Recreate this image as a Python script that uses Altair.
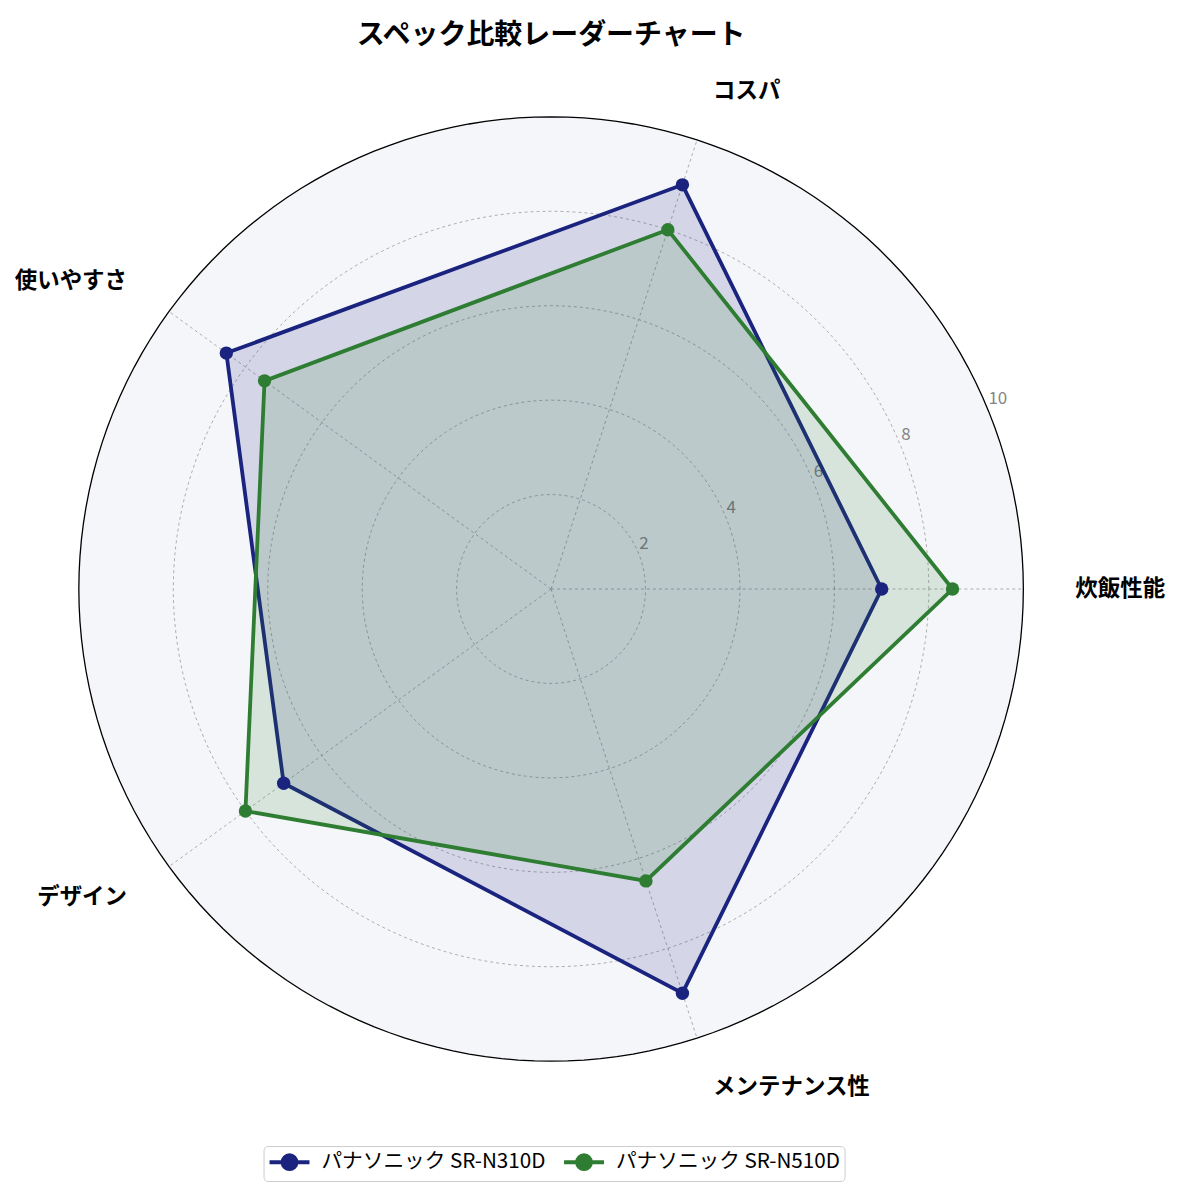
import altair as alt
import pandas as pd

# ---- data ----
categories = ["炊飯性能", "コスパ", "使いやすさ", "デザイン", "メンテナンス性"]
series_names = ["パナソニック SR-N310D", "パナソニック SR-N510D"]
values_n310d = [7.0, 9.0, 8.5, 7.0, 9.0]
values_n510d = [8.5, 8.0, 7.5, 8.0, 6.5]
grid_levels = [2, 4, 6, 8]
tick_values = [2, 4, 6, 8, 10]
tick_labels = ["2", "4", "6", "8", "10"]
r_max = 10
colors = ["#1a237e", "#2e7d32"]

FONT = "Noto Sans CJK JP"
N = len(categories)

rows = []
for name, vals in zip(series_names, [values_n310d, values_n510d]):
    for i, (c, v) in enumerate(zip(categories, vals)):
        rows.append({"series": name, "category": c, "idx": i, "value": v})
df = pd.DataFrame(rows)

cat_df = pd.DataFrame({"category": categories, "idx": list(range(N))})
tick_df = pd.DataFrame({"v": tick_values, "label": tick_labels})

X = alt.Scale(domain=[-11.5, 13.0], nice=False, zero=False)
Y = alt.Scale(domain=[-11.226, 11.395], nice=False, zero=False)
THETA = f"datum.idx * 2 * PI / {N}"

color_scale = alt.Scale(domain=series_names, range=colors)

# background disk + outer spine
disk = alt.Chart(alt.sequence(0, 362, 2, as_="deg")).transform_calculate(
    x=f"{r_max} * cos(datum.deg * PI / 180)",
    y=f"{r_max} * sin(datum.deg * PI / 180)",
).mark_line(
    interpolate="linear-closed", fill="#f5f6fa", stroke="black", strokeWidth=1.3
).encode(
    x=alt.X("x:Q", scale=X, axis=None),
    y=alt.Y("y:Q", scale=Y, axis=None),
    order="deg:Q",
)

rings = alt.Chart(alt.sequence(0, 362, 2, as_="deg")).transform_calculate(
    level=str(grid_levels)
).transform_flatten(["level"]).transform_calculate(
    x="datum.level * cos(datum.deg * PI / 180)",
    y="datum.level * sin(datum.deg * PI / 180)",
).mark_line(
    interpolate="linear-closed", stroke="#9a9a9a", strokeWidth=0.8, strokeDash=[3, 3]
).encode(
    x=alt.X("x:Q", scale=X, axis=None),
    y=alt.Y("y:Q", scale=Y, axis=None),
    detail="level:Q",
    order="deg:Q",
)

spokes = alt.Chart(cat_df).transform_calculate(
    theta=THETA,
    x0="0",
    y0="0",
    xe=f"{r_max} * cos(datum.theta)",
    ye=f"{r_max} * sin(datum.theta)",
).mark_rule(stroke="#9a9a9a", strokeWidth=0.8, strokeDash=[3, 3]).encode(
    x=alt.X("x0:Q", scale=X, axis=None),
    y=alt.Y("y0:Q", scale=Y, axis=None),
    x2="xe:Q",
    y2="ye:Q",
)

ticks = alt.Chart(tick_df).transform_calculate(
    x="datum.v * cos(22.5 * PI / 180)",
    y="datum.v * sin(22.5 * PI / 180)",
).mark_text(
    align="left", baseline="bottom", fontSize=17, color="#858585", font=FONT, dx=1
).encode(
    x=alt.X("x:Q", scale=X, axis=None),
    y=alt.Y("y:Q", scale=Y, axis=None),
    text="label:N",
)

legend_symbol = (
    "M-1,0L3,0"
    "M0.3,0A0.7,0.7,0,1,0,1.7,0A0.7,0.7,0,1,0,0.3,0"
    "M0.5,0A0.5,0.5,0,1,0,1.5,0A0.5,0.5,0,1,0,0.5,0"
    "M0.7,0A0.3,0.3,0,1,0,1.3,0A0.3,0.3,0,1,0,0.7,0"
    "M0.9,0A0.1,0.1,0,1,0,1.1,0A0.1,0.1,0,1,0,0.9,0"
)

polys = alt.Chart(df).transform_calculate(
    theta=THETA,
    x="datum.value * cos(datum.theta)",
    y="datum.value * sin(datum.theta)",
).mark_line(
    interpolate="linear-closed", strokeWidth=3.8, fillOpacity=0.15
).encode(
    x=alt.X("x:Q", scale=X, axis=None),
    y=alt.Y("y:Q", scale=Y, axis=None),
    color=alt.Color(
        "series:N",
        scale=color_scale,
        sort=series_names,
        legend=alt.Legend(
            title=None,
            orient="none",
            legendX=256,
            legendY=1097,
            direction="horizontal",
            symbolType=legend_symbol,
            symbolSize=400,
            symbolStrokeWidth=3.8,
            symbolOpacity=1,
            labelFontSize=20.7,
            labelFont=FONT,
            labelLimit=400,
            labelColor="black",
            labelOffset=30,
            fillColor="white",
            strokeColor="#cccccc",
            cornerRadius=4,
            padding=4,
            columnPadding=10,
        ),
    ),
    fill=alt.Fill("series:N", scale=color_scale, legend=None),
    order="idx:Q",
)

points = alt.Chart(df).transform_calculate(
    theta=THETA,
    x="datum.value * cos(datum.theta)",
    y="datum.value * sin(datum.theta)",
).mark_point(filled=True, size=180, opacity=1).encode(
    x=alt.X("x:Q", scale=X, axis=None),
    y=alt.Y("y:Q", scale=Y, axis=None),
    color=alt.Color("series:N", scale=color_scale, sort=series_names),
)

label_base = alt.Chart(cat_df).transform_calculate(
    theta=THETA,
    x="11.1 * cos(datum.theta)",
    y="11.1 * sin(datum.theta)",
    c="cos(datum.theta)",
)

labels_left = label_base.transform_filter("datum.c > 0").mark_text(
    align="left", baseline="middle", fontSize=22.5, fontWeight="bold", font=FONT, color="black"
).encode(
    x=alt.X("x:Q", scale=X, axis=None),
    y=alt.Y("y:Q", scale=Y, axis=None),
    text="category:N",
)
labels_right = label_base.transform_filter("datum.c <= 0").mark_text(
    align="right", baseline="middle", fontSize=22.5, fontWeight="bold", font=FONT, color="black"
).encode(
    x=alt.X("x:Q", scale=X, axis=None),
    y=alt.Y("y:Q", scale=Y, axis=None),
    text="category:N",
)

chart = alt.layer(
    disk, rings, spokes, ticks, polys, points, labels_left, labels_right
).properties(
    width=1159,
    height=1070,
    title=alt.TitleParams(
        "スペック比較レーダーチャート",
        fontSize=28,
        fontWeight="bold",
        font=FONT,
        anchor="middle",
        frame="group",
        dx=-35.5,
        dy=21,
        baseline="alphabetic",
        offset=0,
        color="black",
    ),
    autosize=alt.AutoSizeParams(type="none"),
    padding={"left": 0, "top": 42, "right": 10, "bottom": 70},
    background="white",
).configure_view(stroke=None)

chart.save("out.html", embed_options={"renderer": "svg", "actions": False})
